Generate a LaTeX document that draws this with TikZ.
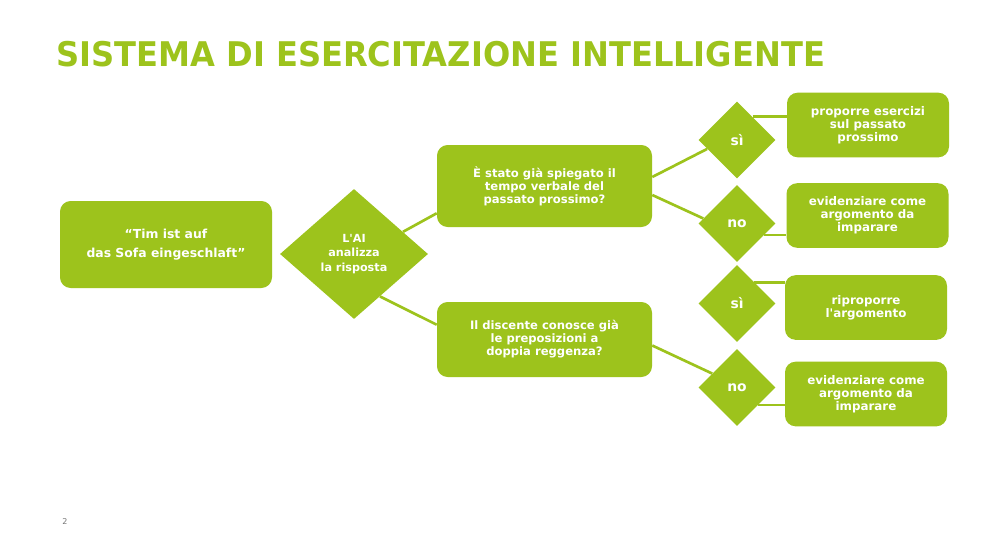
\documentclass[tikz,border=0pt]{standalone}
\usepackage{fontspec}
\setmainfont{DejaVu Sans}[Ligatures=TeXOff]
\usetikzlibrary{shapes.geometric,calc}
\definecolor{lime}{RGB}{157,195,28}
\definecolor{pagegray}{RGB}{120,120,120}
\tikzset{
  box/.style={fill=lime, rounded corners=8pt, text=white, align=center, inner sep=0pt,
    font=\fontsize{8.7pt}{9.75pt}\selectfont\bfseries},
  bigdiamond/.style={diamond, fill=lime, text=white, align=center, inner sep=0pt,
    font=\fontsize{8.4pt}{10.9pt}\selectfont\bfseries},
  smalldiamond/.style={diamond, fill=lime, text=white, inner sep=0pt,
    minimum width=57.75pt, minimum height=57.75pt,
    font=\fontsize{10.4pt}{12pt}\selectfont\bfseries},
  result/.style={box, minimum width=121.5pt, minimum height=48.5pt,
    font=\fontsize{8.9pt}{9.75pt}\selectfont\bfseries},
  link/.style={draw=lime, line width=2pt},
}
\begin{document}
\begin{tikzpicture}[x=0.75pt,y=-0.75pt]
\useasboundingbox (0,0) rectangle (983,553);
\fill[white] (0,0) rectangle (983,553);
% title
\node[anchor=base west, inner sep=0pt, text=lime,
  font=\fontsize{25.5pt}{28pt}\selectfont\bfseries] (title) at (56,66)
  {\scalebox{0.945}[1]{SISTEMA DI ESERCITAZIONE INTELLIGENTE}};
% nodes
\node[box, minimum width=159pt, minimum height=65.25pt,
  font=\fontsize{9.3pt}{14.25pt}\selectfont\bfseries] (start) at (166,244.5)
  {“Tim ist auf\\das Sofa eingeschlaft”};
\node[bigdiamond, minimum width=111pt, minimum height=97.5pt] (d1) at (354,254)
  {L'AI\\analizza\\la risposta};
\node[box, minimum width=161.25pt, minimum height=61.5pt] (q1) at (544.5,186)
  {È stato già spiegato il\\tempo verbale del\\passato prossimo?};
\node[box, minimum width=161.25pt, minimum height=56.25pt] (q2) at (544.5,339.5)
  {Il discente conosce già\\le preposizioni a\\doppia reggenza?};
\node[smalldiamond] (s1) at (737,140) {sì};
\node[smalldiamond] (n1) at (737,223.5) {no};
\node[smalldiamond] (s2) at (737,303.5) {sì};
\node[smalldiamond] (n2) at (737,387.5) {no};
\node[result] (r1) at (868,125) {proporre esercizi\\sul passato\\prossimo};
\node[result] (r2) at (867.5,215.5) {evidenziare come\\argomento da\\imparare};
\node[result] (r3) at (866,307.5) {riproporre\\l'argomento};
\node[result] (r4) at (866,394) {evidenziare come\\argomento da\\imparare};
\node[text=pagegray, font=\fontsize{6pt}{7pt}\selectfont] (pnum) at (65,522) {2};
% connector end points
\coordinate (a1) at ($(d1.north)!0.66!(d1.east)$);
\coordinate (b1) at ($(q1.south west)+(0,-14)$);
\coordinate (a2) at ($(d1.east)!0.65!(d1.south)$);
\coordinate (b2) at ($(q2.north west)+(0,23)$);
\coordinate (a3) at ($(q1.east)+(0,-9)$);
\coordinate (b3) at ($(s1.west)!0.23!(s1.south)$);
\coordinate (a4) at ($(q1.east)+(0,9)$);
\coordinate (b4) at ($(n1.west)!0.13!(n1.north)$);
\coordinate (a5) at ($(q2.east)+(0,6)$);
\coordinate (b5) at ($(n2.west)!0.36!(n2.north)$);
\coordinate (c1) at ($(s1.north)!0.4!(s1.east)$);
\coordinate (c2) at ($(n1.east)!0.3!(n1.south)$);
\coordinate (c3) at ($(s2.north)!0.45!(s2.east)$);
\coordinate (c4) at ($(n2.east)!0.45!(n2.south)$);
% connectors
\draw[link] (a1) -- (b1);
\draw[link] (a2) -- (b2);
\draw[link] (a3) -- (b3);
\draw[link] (a4) -- (b4);
\draw[link] (a5) -- (b5);
\draw[link] (c1) -- (c1 -| r1.west);
\draw[link] (c2) -- (c2 -| r2.west);
\draw[link] (c3) -- (c3 -| r3.west);
\draw[link] (c4) -- (c4 -| r4.west);
\end{tikzpicture}
\end{document}
